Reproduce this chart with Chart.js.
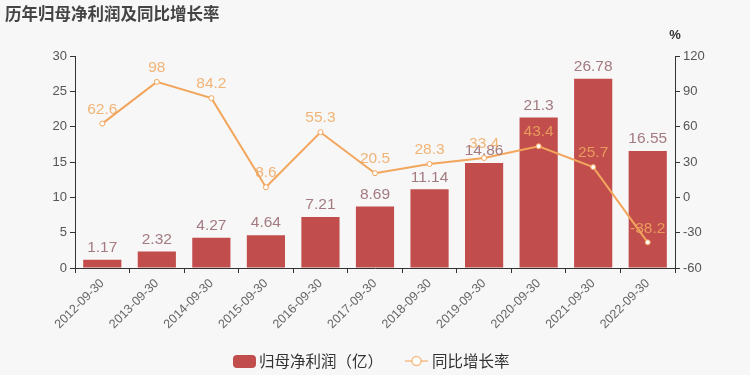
<!DOCTYPE html>
<html>
<head>
<meta charset="utf-8">
<script src="https://cdn.jsdelivr.net/npm/chart.js@4"></script>
<style>
  html, body { margin: 0; padding: 0; background: #f7f7f7; }
  #box { width: 750px; height: 375px; position: relative; }
</style>
</head>
<body>
<div id="box"><canvas id="profitChart"></canvas></div>
<script>
const categories = ['2012-09-30', '2013-09-30', '2014-09-30', '2015-09-30', '2016-09-30', '2017-09-30',
    '2018-09-30', '2019-09-30', '2020-09-30', '2021-09-30', '2022-09-30'];
const profit = [1.17, 2.32, 4.27, 4.64, 7.21, 8.69, 11.14, 14.86, 21.3, 26.78, 16.55];
const growth = [62.6, 98, 84.2, 8.6, 55.3, 20.5, 28.3, 33.4, 43.4, 25.7, -38.2];
const leftTicks = [0, 5, 10, 15, 20, 25, 30];
const rightTicks = [-60, -30, 0, 30, 60, 90, 120];

const barColor = '#c14e4d';
const lineColor = '#f2a55c';
const cjk = '"Noto Sans CJK SC", sans-serif';
const latin = '"Liberation Sans", Arial, sans-serif';

// value labels, title, % unit and legend
const extras = {
    id: 'extras',
    afterDatasetsDraw(chart) {
        const c = chart.ctx;
        c.save();
        c.textAlign = 'center';
        c.textBaseline = 'middle';
        c.font = '15.5px ' + latin;
        chart.getDatasetMeta(0).data.forEach((bar, i) => {
            c.fillStyle = '#a37a80';
            c.fillText(profit[i], bar.x, bar.y - 12);
        });
        chart.getDatasetMeta(1).data.forEach((pt, i) => {
            c.fillStyle = 'rgba(240,168,96,0.85)';
            c.fillText(growth[i], pt.x, pt.y - 14);
        });

        c.fillStyle = '#444';
        c.textAlign = 'left';
        c.font = 'bold 16.5px ' + cjk;
        c.fillText('历年归母净利润及同比增长率', 5, 14);
        c.textAlign = 'center';
        c.fillStyle = '#333';
        c.font = 'bold 13px ' + latin;
        c.fillText('%', 675, 35);

        // legend
        const ly = 361;
        c.fillStyle = barColor;
        c.beginPath();
        c.roundRect(233, 355, 23, 13, 4);
        c.fill();
        c.fillStyle = '#333';
        c.textAlign = 'left';
        c.font = '15.5px ' + cjk;
        c.fillText('归母净利润（亿）', 259, ly);
        c.strokeStyle = 'rgba(242,165,92,0.7)';
        c.lineWidth = 1.5;
        c.beginPath();
        c.moveTo(405, ly); c.lineTo(412, ly);
        c.moveTo(421, ly); c.lineTo(428, ly);
        c.stroke();
        c.beginPath();
        c.arc(416.5, ly, 4.5, 0, Math.PI * 2);
        c.fillStyle = '#fff';
        c.fill();
        c.stroke();
        c.fillStyle = '#333';
        c.fillText('同比增长率', 432, ly);
        c.restore();
    }
};

const ctx = document.getElementById('profitChart').getContext('2d');
const profitChart = new Chart(ctx, {
    data: {
        labels: categories,
        datasets: [{
            type: 'bar',
            label: '归母净利润（亿）',
            data: profit,
            backgroundColor: barColor,
            yAxisID: 'y',
            barPercentage: 0.7,
            categoryPercentage: 1,
            order: 2
        }, {
            type: 'line',
            label: '同比增长率',
            data: growth,
            borderColor: lineColor,
            borderWidth: 2,
            pointRadius: 2.5,
            pointBackgroundColor: '#fff',
            pointBorderColor: lineColor,
            pointBorderWidth: 1,
            tension: 0,
            yAxisID: 'y1',
            order: 1
        }]
    },
    options: {
        responsive: true,
        maintainAspectRatio: false,
        animation: false,
        layout: { padding: { top: 56, left: 0, right: 0, bottom: 0 } },
        plugins: {
            legend: { display: false },
            title: { display: false },
            tooltip: { enabled: false }
        },
        scales: {
            x: {
                offset: true,
                grid: { display: true, offset: true, drawOnChartArea: false, color: '#333', tickLength: 5 },
                border: { display: true, color: '#333' },
                ticks: {
                    minRotation: 45, maxRotation: 45, autoSkip: false,
                    color: '#666', font: { size: 12.5, family: latin }, padding: 3
                },
                afterFit(s) { s.height = 107; }
            },
            y: {
                position: 'left',
                min: 0, max: 30,
                afterBuildTicks(s) { s.ticks = leftTicks.map(v => ({ value: v })); },
                grid: { display: true, drawOnChartArea: false, color: '#333', tickLength: 5 },
                border: { display: true, color: '#333' },
                ticks: { color: '#555', font: { size: 13, family: latin }, padding: 3 },
                afterFit(s) { s.width = 75; }
            },
            y1: {
                position: 'right',
                min: -60, max: 120,
                afterBuildTicks(s) { s.ticks = rightTicks.map(v => ({ value: v })); },
                grid: { display: true, drawOnChartArea: false, color: '#333', tickLength: 5 },
                border: { display: true, color: '#333' },
                ticks: { color: '#555', font: { size: 13, family: latin }, padding: 3 },
                afterFit(s) { s.width = 75; }
            }
        }
    },
    plugins: [extras]
});
</script>
</body>
</html>
